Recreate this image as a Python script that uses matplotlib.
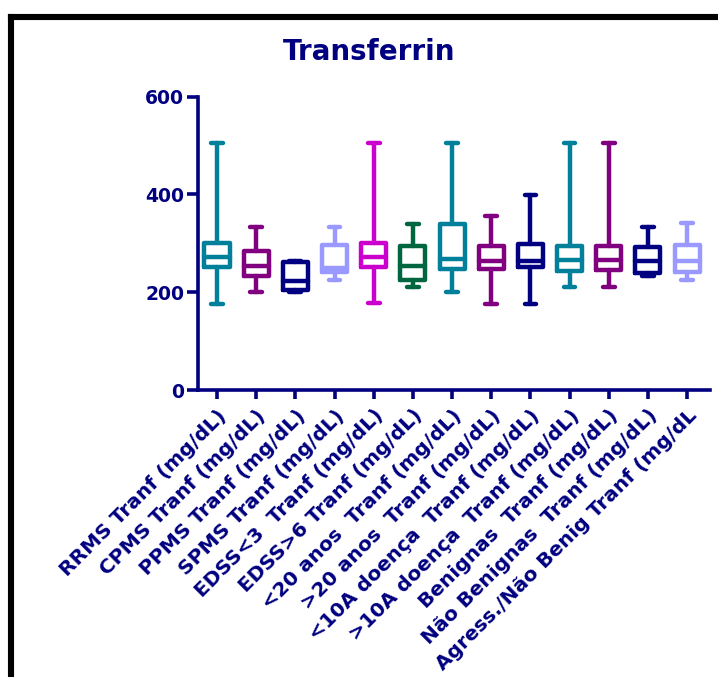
import matplotlib.pyplot as plt
from matplotlib.lines import Line2D

plt.rcParams['font.family'] = ['DejaVu Sans']
plt.rcParams['font.weight'] = 'bold'

NAVY = '#000080'

groups = ['RRMS Tranf (mg/dL)', 'CPMS Tranf (mg/dL)', 'PPMS Tranf (mg/dL)',
          'SPMS Tranf (mg/dL)', 'EDSS<3  Tranf (mg/dL)', 'EDSS>6 Tranf (mg/dL)',
          '<20 anos  Tranf (mg/dL)', '>20 anos  Tranf (mg/dL)',
          '<10A doença  Tranf (mg/dL)', '>10A doença  Tranf (mg/dL)',
          'Benignas  Tranf (mg/dL)', 'Não Benignas  Tranf (mg/dL)',
          'Agress./Não Benig Tranf (mg/dL']

mins    = [176, 200, 200, 225, 177, 211, 200, 176, 176, 210, 210, 234, 225]
q1s     = [251, 234, 205, 241, 251, 226, 248, 248, 252, 244, 245, 240, 241]
medians = [272, 254, 222, 249, 272, 254, 268, 264, 264, 265, 265, 264, 263]
q3s     = [300, 284, 261, 296, 300, 295, 339, 294, 299, 295, 295, 293, 297]
maxs    = [506, 334, 264, 334, 506, 340, 505, 356, 399, 505, 505, 334, 341]

colors = ['#00809A', '#800080', '#000080', '#9999FF', '#CC00CC', '#006640',
          '#00809A', '#800080', '#000080', '#00809A', '#800080', '#000080',
          '#9999FF']

stats = [dict(whislo=lo, q1=a, med=m, q3=b, whishi=hi)
         for lo, a, m, b, hi in zip(mins, q1s, medians, q3s, maxs)]

fig = plt.figure(figsize=(7.18, 6.77), dpi=100)
ax = fig.add_axes([0.2758, 0.4239, 0.7131, 0.4333])

lw = 3.2
bp = ax.bxp(stats, positions=range(1, len(stats) + 1), widths=0.64,
            capwidths=0.3, showfliers=False, patch_artist=False)
for i, c in enumerate(colors):
    for ln in [bp['boxes'][i], bp['medians'][i]]:
        ln.set_color(c)
        ln.set_linewidth(lw)
        ln.set_solid_joinstyle('round')
        ln.set_solid_capstyle('round')
    for ln in bp['whiskers'][2 * i:2 * i + 2] + bp['caps'][2 * i:2 * i + 2]:
        ln.set_color(c)
        ln.set_linewidth(lw)
        ln.set_solid_capstyle('round')

ax.set_ylim(0, 600)
ax.set_xlim(0.515, 13.586)
ax.set_yticks([0, 200, 400, 600])
ax.set_xticks(range(1, len(groups) + 1))
ax.set_xticklabels(groups, rotation=45, ha='right', va='top',
                   rotation_mode='anchor', fontsize=14.5, color=NAVY)
for lab in ax.get_yticklabels():
    lab.set_fontsize(13.5)
    lab.set_color(NAVY)

for side in ['top', 'right']:
    ax.spines[side].set_visible(False)
for side in ['left', 'bottom']:
    ax.spines[side].set_color(NAVY)
    ax.spines[side].set_linewidth(2.6)
ax.tick_params(axis='y', length=8, width=2.6, color=NAVY, pad=2)
ax.tick_params(axis='x', length=6.5, width=2.6, color=NAVY, pad=5)

fig.text(0.514, 1 - 52 / 677, 'Transferrin', ha='center', va='center',
         fontsize=20, color=NAVY, fontweight='bold')

# outer frame (left and top edges)
fig.add_artist(Line2D([11 / 718, 11 / 718], [0, 1 - 17 / 677], color='black',
                      lw=4.4, transform=fig.transFigure, solid_capstyle='projecting'))
fig.add_artist(Line2D([11 / 718, 1], [1 - 17 / 677, 1 - 17 / 677], color='black',
                      lw=4.4, transform=fig.transFigure, solid_capstyle='projecting'))

fig.savefig('out.png', dpi=100)
